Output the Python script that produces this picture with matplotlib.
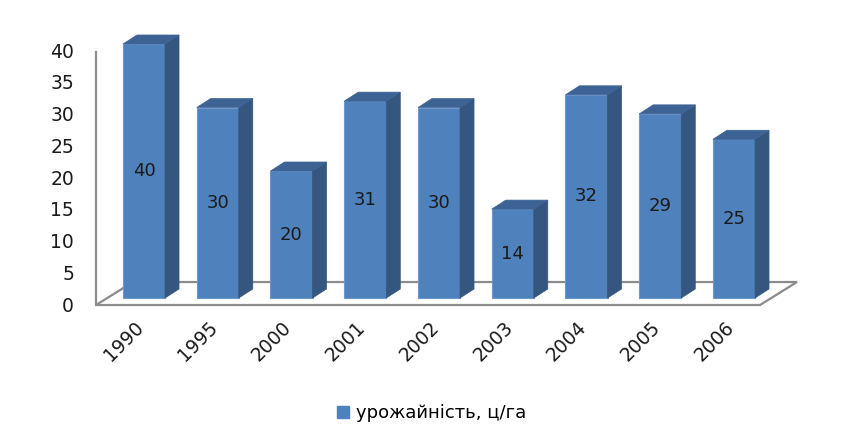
import numpy as np
import matplotlib.pyplot as plt
from matplotlib.patches import Polygon, Rectangle
from matplotlib.lines import Line2D

years = ['1990', '1995', '2000', '2001', '2002', '2003', '2004', '2005', '2006']
yields = [40, 30, 20, 31, 30, 14, 32, 29, 25]
y_ticks = [0, 5, 10, 15, 20, 25, 30, 35, 40]
legend_label = 'урожайність, ц/га'

front_col = '#4F81BD'
side_col = '#34567F'
top_col = '#3D6395'
floor_col = '#8C8C8C'

fig = plt.figure(figsize=(8.5, 4.47), dpi=100)
ax = fig.add_axes([0, 0, 1, 1])
ax.set_xlim(-1.9525, 9.573)
ax.set_ylim(-23.46, 46.93)
ax.axis('off')

# 3d-ish depth offsets (category units, value units)
w = 0.57
dx, dy = 0.19, 1.42
shift = -1.26   # wall scale sits slightly in front of the bars

# floor and left wall
floor = Polygon([(-0.651, -1.10), (-0.149, 2.52), (8.854, 2.52), (8.353, -1.10)],
                closed=True, facecolor='none', edgecolor=floor_col, lw=1.6, zorder=1)
ax.add_patch(floor)
ax.plot([-0.651, -0.651], [-1.10, 40 + shift], color=floor_col, lw=1.6, zorder=1)

for lab in y_ticks:
    ax.text(-0.949, lab + shift, str(lab), ha='right', va='center', fontsize=13.5, color='#1a1a1a')

x = np.arange(len(years))
for i, v in zip(x, yields):
    x0, x1 = i - w / 2, i + w / 2
    ax.add_patch(Rectangle((x0, 0), w, v, facecolor=front_col, edgecolor='#6C98CF', lw=0.8, zorder=3))
    ax.add_patch(Polygon([(x1, 0), (x1 + dx, dy), (x1 + dx, v + dy), (x1, v)],
                         closed=True, facecolor=side_col, edgecolor=side_col, lw=0.5, zorder=3))
    ax.add_patch(Polygon([(x0, v), (x0 + dx, v + dy), (x1 + dx, v + dy), (x1, v)],
                         closed=True, facecolor=top_col, edgecolor=top_col, lw=0.5, zorder=3))
    ax.text(i, v / 2, str(v), ha='center', va='center', fontsize=13, color='#1a1a1a', zorder=4)
    ax.text(i - 0.13, -3.1, years[i], ha='right', va='top', rotation=45,
            rotation_mode='anchor', fontsize=13.5, color='#1a1a1a')

handle = Line2D([], [], marker='s', linestyle='none', markersize=9,
                markerfacecolor=front_col, markeredgecolor=front_col)
fig.legend([handle], [legend_label], loc='center', bbox_to_anchor=(0.506, 0.076),
           frameon=False, fontsize=13, handletextpad=0.2, handlelength=1.0)

plt.savefig('out.png', dpi=100)
